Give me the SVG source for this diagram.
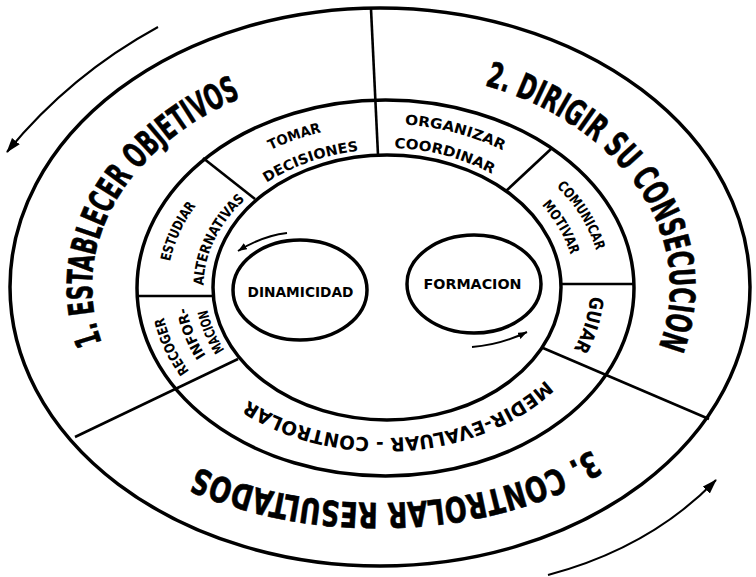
<svg xmlns="http://www.w3.org/2000/svg" xmlns:xlink="http://www.w3.org/1999/xlink" width="756" height="577" viewBox="0 0 756 577">
<style>
.ring{fill:none;stroke:#000;stroke-width:3.5}
.div{stroke:#000;stroke-width:2.6;fill:none}
.arr{stroke:#000;stroke-width:2;fill:none}
.t{font-family:"DejaVu Sans Condensed","DejaVu Sans","Liberation Sans",sans-serif;font-weight:bold;font-stretch:condensed;fill:#000}
.big{font-size:35px;stroke:#000;stroke-width:0.6}
.mid{font-size:19px}
.sm{font-size:14px}
</style>
<defs>
<marker id="ahB" markerUnits="userSpaceOnUse" markerWidth="16" markerHeight="12" refX="14" refY="5" orient="auto"><path d="M0,0 L15,5 L0,10 z" fill="#000"/></marker>
<marker id="ahS" markerUnits="userSpaceOnUse" markerWidth="10" markerHeight="8" refX="9" refY="3.5" orient="auto"><path d="M0,0 L9,3.5 L0,7 z" fill="#000"/></marker>
<path id="p1" d="M101.9,342.9 A289,216 0 0 1 282.2,84"/>
<path id="p2" d="M484.6,85.3 A289,216 0 0 1 642.9,378.3"/>
<path id="p3" d="M591.9,450 A326,216 0 0 1 168.5,452.5"/>
<path id="pTom" d="M207.4,196.6 A214.2,162.5 0 0 1 399.9,125.4"/>
<path id="pDec" d="M234.5,210.3 A181.5,138 0 0 1 400.8,150"/>
<path id="pOrg" d="M347.6,126.4 A215.7,163.6 0 0 1 550.2,182.3"/>
<path id="pCoo" d="M353.1,149.9 A183.7,139.7 0 0 1 525.7,197.7"/>
<path id="pCom" d="M512.4,154.2 A216.7,164.4 0 0 1 600.5,304.7"/>
<path id="pMot" d="M500.9,172.7 A190.4,144.7 0 0 1 573.8,306.4"/>
<path id="pGui" d="M580.7,240.4 A205.3,155.8 0 0 1 536.6,392.6"/>
<path id="pMed" d="M545.5,380 A205,151 0 0 1 206.5,362.5"/>
<path id="pRec" d="M236.1,415 A224.7,170.2 0 0 1 164.8,253.6"/>
<path id="pInf" d="M246,396.8 A200.1,151.9 0 0 1 190.8,250.8"/>
<path id="pMac" d="M262.2,387.7 A180,137 0 0 1 209.6,256.7"/>
<path id="pEst" d="M172.1,321.4 A217.5,164.9 0 0 1 240,164.6"/>
<path id="pAlt" d="M206.6,312.9 A181.5,138 0 0 1 266.9,182.7"/>
</defs>
<rect width="756" height="577" fill="#fff"/>
<g id="rings">
<ellipse class="ring" cx="380" cy="287" rx="370" ry="279" stroke-width="4"/>
<ellipse class="ring" cx="385.5" cy="288" rx="248.5" ry="188"/>
<ellipse class="ring" cx="387" cy="287.5" rx="174" ry="132.5"/>
</g>
<g id="dividers">
<line class="div" x1="371" y1="9" x2="378" y2="155"/>
<line class="div" x1="75" y1="437" x2="238" y2="359"/>
<line class="div" x1="543" y1="348" x2="709" y2="419"/>
<line class="div" x1="203" y1="158" x2="255" y2="199"/>
<line class="div" x1="551" y1="149" x2="506" y2="191"/>
<line class="div" x1="137" y1="296" x2="213" y2="296"/>
<line class="div" x1="561" y1="284" x2="634" y2="284"/>
</g>
<g id="establecer-objetivos"><text class="t big"><textPath xlink:href="#p1" textLength="312" lengthAdjust="spacingAndGlyphs">1. ESTABLECER OBJETIVOS</textPath></text></g>
<g id="dirigir-consecucion"><text class="t big"><textPath xlink:href="#p2" textLength="355" lengthAdjust="spacingAndGlyphs">2. DIRIGIR SU CONSECUCION</textPath></text></g>
<g id="controlar-resultados"><text class="t big"><textPath xlink:href="#p3" textLength="408" lengthAdjust="spacingAndGlyphs">3. CONTROLAR RESULTADOS</textPath></text></g>
<g id="tomar-decisiones">
<text class="t sm" text-anchor="middle"><textPath xlink:href="#pTom" startOffset="50%" textLength="54" lengthAdjust="spacingAndGlyphs">TOMAR</textPath></text>
<text class="t sm" text-anchor="middle"><textPath xlink:href="#pDec" startOffset="50%" textLength="98" lengthAdjust="spacingAndGlyphs">DECISIONES</textPath></text>
</g>
<g id="organizar-coordinar">
<text class="t sm" text-anchor="middle"><textPath xlink:href="#pOrg" startOffset="50%" textLength="102" lengthAdjust="spacingAndGlyphs">ORGANIZAR</textPath></text>
<text class="t sm" text-anchor="middle"><textPath xlink:href="#pCoo" startOffset="50%" textLength="102" lengthAdjust="spacingAndGlyphs">COORDINAR</textPath></text>
</g>
<g id="comunicar-motivar">
<text class="t sm" text-anchor="middle"><textPath xlink:href="#pCom" startOffset="50%" textLength="76" lengthAdjust="spacingAndGlyphs">COMUNICAR</textPath></text>
<text class="t sm" text-anchor="middle"><textPath xlink:href="#pMot" startOffset="50%" textLength="58" lengthAdjust="spacingAndGlyphs">MOTIVAR</textPath></text>
</g>
<g id="guiar"><text class="t mid" text-anchor="middle"><textPath xlink:href="#pGui" startOffset="50%" textLength="56" lengthAdjust="spacingAndGlyphs">GUIAR</textPath></text></g>
<g id="medir-evaluar-controlar"><text class="t mid"><textPath xlink:href="#pMed" textLength="318" lengthAdjust="spacingAndGlyphs">MEDIR-EVALUAR - CONTROLAR</textPath></text></g>
<g id="recoger-informacion">
<text class="t sm" text-anchor="middle"><textPath xlink:href="#pRec" startOffset="50%" textLength="60" lengthAdjust="spacingAndGlyphs">RECOGER</textPath></text>
<text class="t sm" text-anchor="middle"><textPath xlink:href="#pInf" startOffset="50%" textLength="52" lengthAdjust="spacingAndGlyphs">INFOR-</textPath></text>
<text class="t sm" text-anchor="middle"><textPath xlink:href="#pMac" startOffset="50%" textLength="44" lengthAdjust="spacingAndGlyphs">MACION</textPath></text>
</g>
<g id="estudiar-alternativas">
<text class="t sm" text-anchor="middle"><textPath xlink:href="#pEst" startOffset="50%" textLength="62" lengthAdjust="spacingAndGlyphs">ESTUDIAR</textPath></text>
<text class="t sm" text-anchor="middle"><textPath xlink:href="#pAlt" startOffset="50%" textLength="98" lengthAdjust="spacingAndGlyphs">ALTERNATIVAS</textPath></text>
</g>
<g id="dinamicidad">
<ellipse class="ring" cx="300" cy="290" rx="67" ry="50" stroke-width="3"/>
<text class="t sm" x="300.5" y="297" text-anchor="middle" textLength="106" lengthAdjust="spacingAndGlyphs">DINAMICIDAD</text>
</g>
<g id="formacion">
<ellipse class="ring" cx="474" cy="284" rx="67" ry="49" stroke-width="3"/>
<text class="t sm" x="472.5" y="289" text-anchor="middle" textLength="98" lengthAdjust="spacingAndGlyphs">FORMACION</text>
</g>
<g id="connectors">
<path class="arr" d="M158,27 Q70,75 7,152" marker-end="url(#ahB)"/>
<path class="arr" d="M548,575 Q650,548 716,480" marker-end="url(#ahB)"/>
<path class="arr" d="M287,233 Q262,236 238,251" marker-end="url(#ahS)"/>
<path class="arr" d="M472,347 Q500,345 527,332" marker-end="url(#ahS)"/>
</g>
</svg>
